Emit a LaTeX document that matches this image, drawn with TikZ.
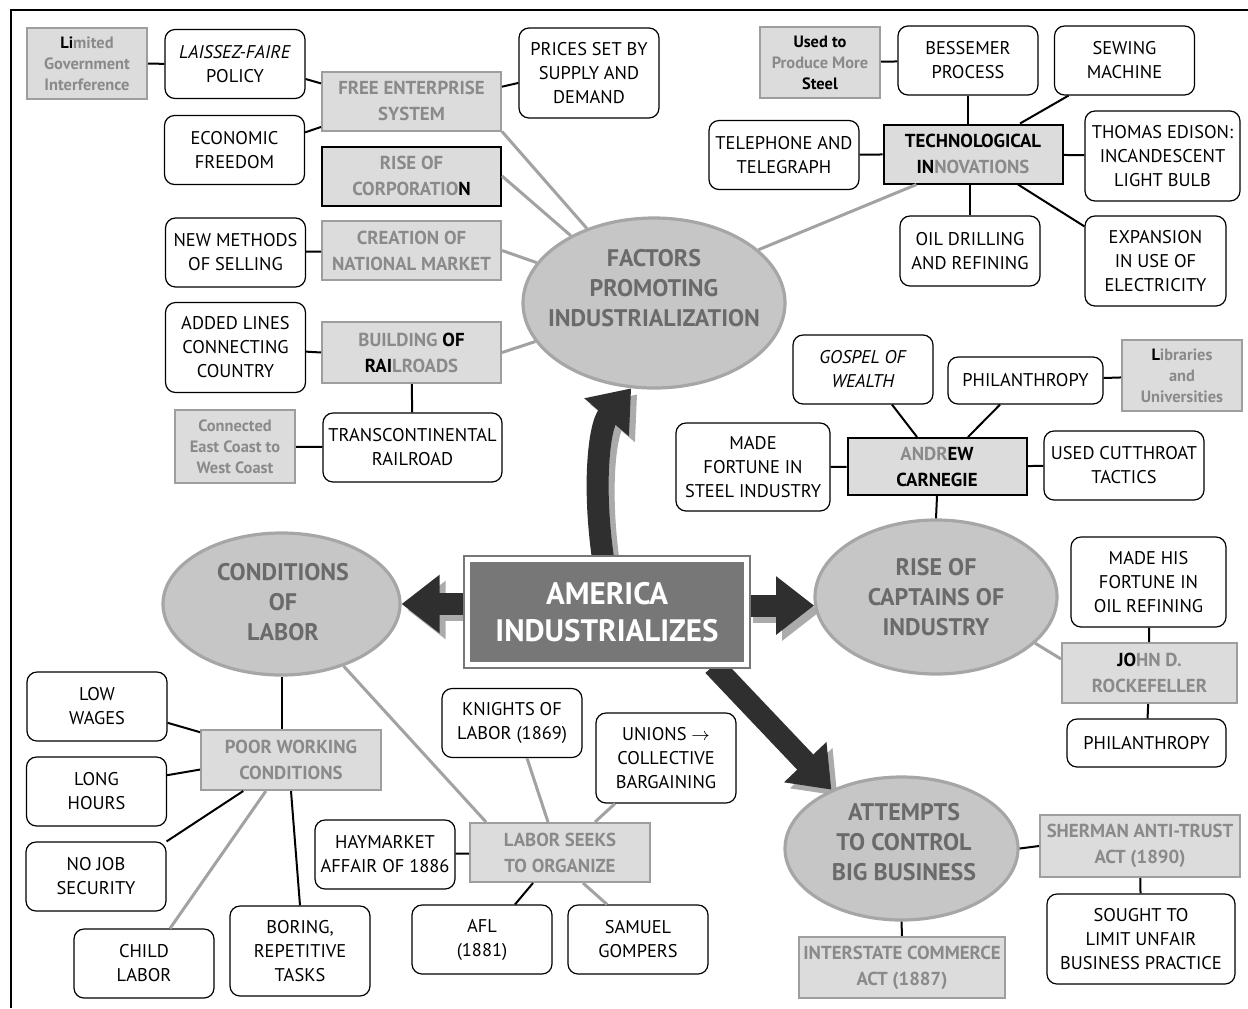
\documentclass[tikz,border=0pt]{standalone}
\usepackage{fontspec}
\setmainfont{PT Sans}
\usepackage{amsmath}
\usetikzlibrary{shapes.geometric, arrows.meta}

\definecolor{boxfill}{HTML}{DCDCDC}
\definecolor{boxedge}{HTML}{9E9E9E}
\definecolor{boxtext}{HTML}{8A8A8A}
\definecolor{topicfill}{HTML}{C6C6C6}
\definecolor{topicedge}{HTML}{A6A6A6}
\definecolor{topictext}{HTML}{6A6A6A}
\definecolor{centrefill}{HTML}{777777}
\definecolor{arrowink}{HTML}{2F2F2F}
\definecolor{arrowshade}{HTML}{ABABAB}
\definecolor{linkgrey}{HTML}{A2A2A2}

\newcommand{\ink}[1]{\textcolor{black}{#1}}

\pgfdeclarelayer{background}
\pgfsetlayers{background,main}

\tikzset{
    note_node/.style={rectangle, rounded corners=5pt, draw=black, fill=white, line width=0.6pt, text centered, align=center, minimum width=70pt, minimum height=34.5pt, inner sep=1pt, font=\fontsize{9.2}{12}\selectfont},
    tall_note/.style={note_node, minimum height=45pt},
    grey_node/.style={rectangle, draw=boxedge, fill=boxfill, line width=1pt, text=boxtext, text centered, align=center, minimum width=89.5pt, minimum height=29.5pt, inner sep=1pt, font=\bfseries\fontsize{9.4}{13}\selectfont},
    dark_grey_node/.style={grey_node, draw=black},
    aside_node/.style={grey_node, minimum width=60pt, minimum height=35.5pt, font=\bfseries\fontsize{8.2}{10.5}\selectfont},
    topic_ellipse/.style={ellipse, draw=topicedge, fill=topicfill, line width=1.6pt, inner sep=0pt},
    topic_text/.style={text=topictext, text centered, align=center, font=\bfseries\fontsize{12}{15}\selectfont},
    centre_box/.style={rectangle, fill=centrefill, draw=centrefill, double=white, double distance=2.4pt, line width=0.9pt, text=white, text centered, align=center, minimum width=139.5pt, minimum height=52.5pt, font=\bfseries\fontsize{15.5}{18.5}\selectfont},
    link/.style={line width=1pt},
    grey_link/.style={draw=linkgrey, line width=1.5pt},
    big_arrow/.style={line width=11pt, draw=arrowink, -{Triangle[width=28pt, length=19pt]}},
    big_arrow_shade/.style={big_arrow, draw=arrowshade},
    frame_line/.style={line width=1.2pt},
}

\begin{document}
\begin{tikzpicture}[x=0.5pt, y=-0.5pt]
      \useasboundingbox (0,0) rectangle (1248,1008);
      \draw [frame_line] (11,1008) -- (11,10) -- (1248,10);

      %%%%%%%%%%%%%%%%%%%%%%%%%%%%%%%%%%%%
      % FACTORS PROMOTING INDUSTRIALIZATION %
      %%%%%%%%%%%%%%%%%%%%%%%%%%%%%%%%%%%%
      \node (factors) [topic_ellipse, minimum width=131pt, minimum height=85pt] at (654,303) {};
      \node (factors_text) [topic_text] at (654,288) {FACTORS\\PROMOTING\\INDUSTRIALIZATION};

      \node (limited) [aside_node] at (87,63.5)
            {\ink{Li}mited\\Government\\Interference};
      \node (laissez) [note_node] at (235,64)
            {\textit{LAISSEZ-FAIRE}\\POLICY};
      \node (economic) [note_node] at (234.5,150)
            {ECONOMIC\\FREEDOM};
      \node (free_enterprise) [grey_node] at (411.5,101)
            {FREE ENTERPRISE\\SYSTEM};
      \node (prices) [tall_note] at (589,73)
            {PRICES SET BY\\SUPPLY AND\\DEMAND};
      \node (corporation) [dark_grey_node] at (411.5,176)
            {RISE OF\\CORPORATIO\ink{N}};
      \node (selling) [note_node] at (235.5,252.5)
            {NEW METHODS\\OF SELLING};
      \node (market) [grey_node] at (411.5,250.5)
            {CREATION OF\\NATIONAL MARKET};
      \node (added_lines) [tall_note] at (235.5,347.5)
            {ADDED LINES\\CONNECTING\\COUNTRY};
      \node (railroads) [grey_node, minimum height=30.5pt] at (411.5,352.5)
            {BUILDING \ink{OF}\\\ink{RAI}LROADS};
      \node (coasts) [aside_node, minimum height=36.5pt] at (235,446.5)
            {Connected\\East Coast to\\West Coast};
      \node (transcontinental) [note_node, minimum width=89.5pt] at (412.5,447.5)
            {TRANSCONTINENTAL\\RAILROAD};

      \draw [link] (limited) -- (laissez);
      \draw [link] (laissez.-12) -- (free_enterprise.169);
      \draw [link] (economic.14) -- (free_enterprise.196);
      \draw [link] (free_enterprise.9) -- (prices.188);
      \draw [link] (selling) -- (market);
      \draw [link] (added_lines) -- (railroads.west);
      \draw [link] (railroads) -- (transcontinental);
      \draw [link] (coasts) -- (transcontinental);
      \draw [grey_link] (free_enterprise.south east) -- (factors.132);
      \draw [grey_link] (corporation.east) -- (factors.141);
      \draw [grey_link] (market.east) -- (factors.161);
      \draw [grey_link] (railroads.east) -- (factors.198);

      %%%%%%%%%%%%%%%%%%%%%%%%%%%%
      % TECHNOLOGICAL INNOVATIONS %
      %%%%%%%%%%%%%%%%%%%%%%%%%%%%
      \node (steel_use) [aside_node] at (820,62.5)
            {\ink{Used to}\\Produce More\\\ink{Steel}};
      \node (bessemer) [note_node] at (968,60.5)
            {BESSEMER\\PROCESS};
      \node (sewing) [note_node] at (1124.5,60.5)
            {SEWING\\MACHINE};
      \node (telephone) [note_node, minimum width=75pt] at (784,155)
            {TELEPHONE AND\\TELEGRAPH};
      \node (technology) [dark_grey_node] at (973,154)
            {\ink{TECHNOLOGICAL}\\\ink{IN}NOVATIONS};
      \node (edison) [tall_note, minimum width=77.5pt] at (1162.5,156)
            {THOMAS EDISON:\\INCANDESCENT\\LIGHT BULB};
      \node (oil_drilling) [note_node, minimum height=35pt] at (970,251)
            {OIL DRILLING\\AND REFINING};
      \node (electricity) [tall_note, minimum width=70.5pt] at (1155.5,261)
            {EXPANSION\\IN USE OF\\ELECTRICITY};

      \draw [link] (steel_use) -- (bessemer);
      \draw [link] (bessemer.south) -- (bessemer.south |- technology.north);
      \draw [link] ([xshift=-28pt]sewing.south) -- ([xshift=23.5pt]technology.north);
      \draw [link] (telephone) -- (technology);
      \draw [link] (technology) -- (edison);
      \draw [link] (technology.south -| oil_drilling.north) -- (oil_drilling.north);
      \draw [link] ([xshift=22.5pt]technology.south) -- ([yshift=-5.5pt]electricity.north west);
      \draw [grey_link] ([xshift=17pt]technology.south west) -- (factors.27);

      %%%%%%%%%%%%%%%%%%%%%%%%%%
      % RISE OF CAPTAINS OF INDUSTRY %
      %%%%%%%%%%%%%%%%%%%%%%%%%%
      \node (captains) [topic_ellipse, minimum width=121pt, minimum height=77pt] at (936,597) {};
      \node (captains_text) [topic_text] at (936,597) {RISE OF\\CAPTAINS OF\\INDUSTRY};

      \node (gospel) [note_node] at (863,369.5)
            {\textit{GOSPEL OF}\\\textit{WEALTH}};
      \node (philanthropy_a) [note_node, minimum width=77.5pt, minimum height=23.5pt] at (1025.5,380.5)
            {PHILANTHROPY};
      \node (libraries) [aside_node] at (1182,375.5)
            {\ink{L}ibraries\\and\\Universities};
      \node (steel_fortune) [tall_note, minimum width=77pt, minimum height=44pt] at (753,467)
            {MADE\\FORTUNE IN\\STEEL INDUSTRY};
      \node (carnegie) [dark_grey_node, minimum height=28.5pt] at (937,466.5)
            {ANDR\ink{EW}\\\ink{CARNEGIE}};
      \node (cutthroat) [note_node, minimum width=80pt] at (1124,465.5)
            {USED CUTTHROAT\\TACTICS};
      \node (oil_fortune) [tall_note, minimum width=77.5pt] at (1148.5,582)
            {MADE HIS\\FORTUNE IN\\OIL REFINING};
      \node (rockefeller) [grey_node, minimum width=87.5pt, minimum height=30pt] at (1149.5,673)
            {\ink{JO}HN D.\\ROCKEFELLER};
      \node (philanthropy_b) [note_node, minimum width=79.5pt, minimum height=24pt] at (1146.5,743)
            {PHILANTHROPY};

      \draw [link] ([xshift=14.5pt]gospel.south) -- ([xshift=-10pt]carnegie.north);
      \draw [link] ([xshift=-12.75pt]philanthropy_a.south) -- ([xshift=15.5pt]carnegie.north);
      \draw [link] (philanthropy_a) -- (libraries);
      \draw [link] (steel_fortune) -- (carnegie);
      \draw [link] (carnegie) -- (cutthroat);
      \draw [link] (carnegie.south) -- (captains.north);
      \draw [link] (oil_fortune) -- (rockefeller);
      \draw [link] (rockefeller) -- (philanthropy_b);
      \draw [grey_link] (captains.-25) -- (rockefeller.171);

      %%%%%%%%%%%%%%%%%%%%%%
      % CONDITIONS OF LABOR %
      %%%%%%%%%%%%%%%%%%%%%%
      \node (conditions) [topic_ellipse, minimum width=118.5pt, minimum height=71pt] at (281.5,604) {};
      \node (conditions_text) [topic_text] at (283,602) {CONDITIONS\\OF\\LABOR};

      \node (low_wages) [note_node] at (97,706.5)
            {LOW\\WAGES};
      \node (poor_conditions) [grey_node, minimum width=90pt, minimum height=30pt] at (291,760)
            {POOR WORKING\\CONDITIONS};
      \node (long_hours) [note_node] at (96.5,791.5)
            {LONG\\HOURS};
      \node (job_security) [note_node] at (96,876.5)
            {NO JOB\\SECURITY};
      \node (child_labor) [note_node] at (144,963.5)
            {CHILD\\LABOR};
      \node (boring_tasks) [tall_note] at (300,951)
            {BORING,\\REPETITIVE\\TASKS};
      \node (knights) [note_node] at (512,723)
            {KNIGHTS OF\\LABOR (1869)};
      \node (unions) [tall_note] at (666,758)
            {UNIONS $\rightarrow$\\COLLECTIVE\\BARGAINING};
      \node (haymarket) [note_node] at (385,854.5)
            {HAYMARKET\\AFFAIR OF 1886};
      \node (organize) [grey_node, minimum width=90pt] at (560,852.5)
            {LABOR SEEKS\\TO ORGANIZE};
      \node (afl) [note_node] at (482,939.5)
            {AFL\\(1881)};
      \node (gompers) [note_node] at (638,939.5)
            {SAMUEL\\GOMPERS};

      \draw [link] (conditions.south) -- (conditions.south |- poor_conditions.north);
      \draw [link] (low_wages.-13) -- (poor_conditions.163);
      \draw [link] (long_hours.13) -- (poor_conditions.186);
      \draw [link] (job_security.north east) -- (poor_conditions.213);
      \draw [grey_link] ([xshift=13pt]child_labor.north) -- (poor_conditions.231);
      \draw [link] (boring_tasks.north) -- (poor_conditions.south);
      \draw [grey_link] (conditions.315) -- ([xshift=8.5pt]organize.north west);
      \draw [grey_link] ([xshift=7.5pt]knights.south) -- ([xshift=-6pt]organize.north);
      \draw [grey_link] ([xshift=-25.5pt]unions.south) -- ([xshift=17.5pt]organize.north);
      \draw [link] (haymarket) -- (organize);
      \draw [link] ([xshift=-13.5pt]organize.south) -- ([xshift=16.5pt]afl.north);
      \draw [grey_link] ([xshift=11.5pt]organize.south) -- ([xshift=-15.5pt]gompers.north);

      %%%%%%%%%%%%%%%%%%%%%%%%%%%%%%%
      % ATTEMPTS TO CONTROL BIG BUSINESS %
      %%%%%%%%%%%%%%%%%%%%%%%%%%%%%%%
      \node (attempts) [topic_ellipse, minimum width=116.5pt, minimum height=71.5pt] at (901.5,848.5) {};
      \node (attempts_text) [topic_text] at (904,842) {ATTEMPTS\\TO CONTROL\\BIG BUSINESS};

      \node (sherman) [grey_node, minimum width=100pt, minimum height=31pt] at (1140,846)
            {SHERMAN ANTI-TRUST\\ACT (1890)};
      \node (unfair) [tall_note, minimum width=94pt] at (1141,939)
            {SOUGHT TO\\LIMIT UNFAIR\\BUSINESS PRACTICE};
      \node (interstate) [grey_node, minimum width=103pt, minimum height=30.5pt] at (902,967.5)
            {INTERSTATE COMMERCE\\ACT (1887)};

      \draw [link] (attempts.east) -- (sherman.west);
      \draw [link] (sherman) -- (unfair);
      \draw [link] (attempts.south) -- (interstate.north);

      %%%%%%%%%%%%%%%%%%%%%%%
      % AMERICA INDUSTRIALIZES %
      %%%%%%%%%%%%%%%%%%%%%%%
      \node (america) [centre_box] at (607,612)
            {AMERICA\\INDUSTRIALIZES};

      \begin{pgfonlayer}{background}
        \begin{scope}[transform canvas={shift={(3pt,-3pt)}}]
          \draw [big_arrow_shade] ([xshift=-2pt]america.north) .. controls (592,480) and (600,425) .. (factors.-105);
          \draw [big_arrow_shade] (conditions.east -| america.west) -- (conditions.east);
          \draw [big_arrow_shade] (america.east |- captains.184) -- (captains.184);
          \draw [big_arrow_shade] ([xshift=-17pt]america.south east) -- (attempts.140);
        \end{scope}
        \draw [big_arrow] ([xshift=-2pt]america.north) .. controls (592,480) and (600,425) .. (factors.-105);
        \draw [big_arrow] (conditions.east -| america.west) -- (conditions.east);
        \draw [big_arrow] (america.east |- captains.184) -- (captains.184);
        \draw [big_arrow] ([xshift=-17pt]america.south east) -- (attempts.140);
      \end{pgfonlayer}
\end{tikzpicture}
\end{document}
